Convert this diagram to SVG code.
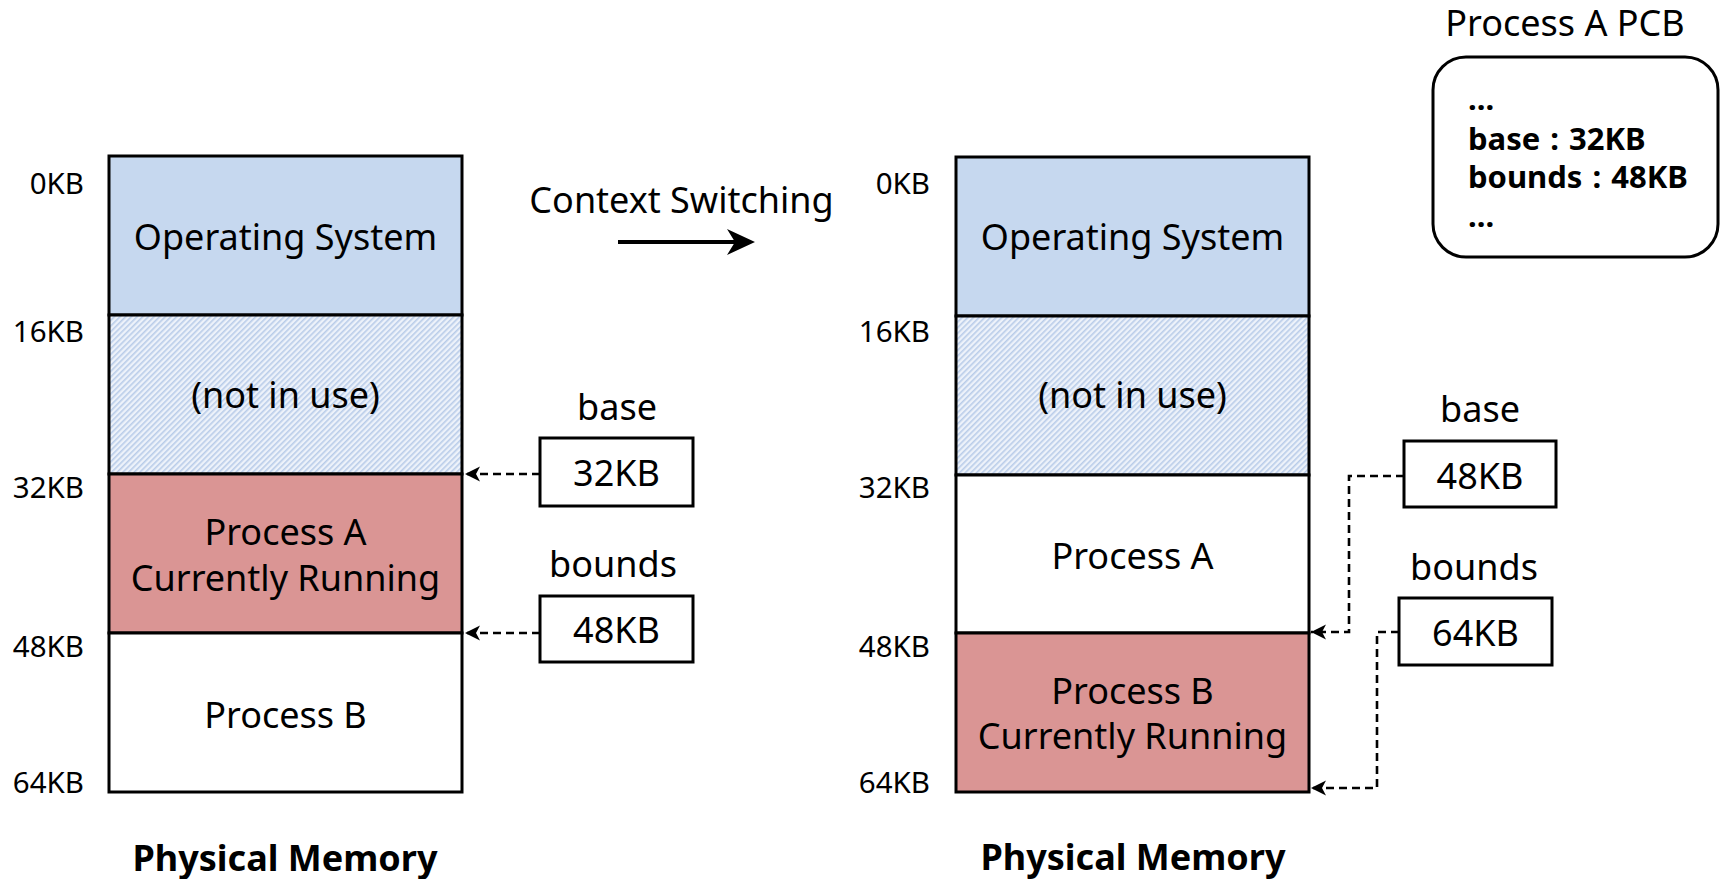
<svg xmlns="http://www.w3.org/2000/svg" width="1721" height="879" viewBox="0 0 1721 879">
  <defs>
    <style>
      .t { font-family: "Noto Sans", "Open Sans", "DejaVu Sans", sans-serif; font-size: 36px; fill: #000; }
      .mid { text-anchor: middle; }
      .lbl { font-size: 29.5px; text-anchor: end; }
      .title { font-size: 36px; font-weight: bold; text-anchor: middle; }
      .pcb { font-size: 31px; font-weight: bold; word-spacing: 2px; }
      .seg { stroke: #000; stroke-width: 3; }
      .os { fill: #C6D8EF; }
      .free { fill: url(#hatch); }
      .run { fill: #DA9594; }
      .idle { fill: #FFFFFF; }
      .reg { fill: #FFFFFF; stroke: #000; stroke-width: 3; }
      .link { fill: none; stroke: #000; stroke-width: 2.6; stroke-dasharray: 8 5; marker-end: url(#tip); }
    </style>
    <!-- fine diagonal hatch for the unused region -->
    <pattern id="hatch" patternUnits="userSpaceOnUse" width="4" height="4" patternTransform="rotate(45)">
      <rect width="4" height="4" fill="#EDF2FA"/>
      <rect width="1.6" height="4" fill="#B9CCE9"/>
    </pattern>
    <marker id="tip" markerUnits="userSpaceOnUse" markerWidth="16" markerHeight="16" refX="15" refY="8" orient="auto">
      <path d="M15,8 L0,0.5 L4,8 L0,15.5 Z" fill="#000"/>
    </marker>
  </defs>

  <rect width="1721" height="879" fill="#FFFFFF"/>

  <!-- memory layout before the switch -->
  <g id="memory-before">
    <rect class="seg os" x="109" y="156" width="353" height="159"/>
    <rect class="seg free" x="109" y="315" width="353" height="159"/>
    <rect class="seg run" x="109" y="474" width="353" height="159"/>
    <rect class="seg idle" x="109" y="633" width="353" height="159"/>
    <text class="t mid" x="285.5" y="250">Operating System</text>
    <text class="t mid" x="285.5" y="408">(not in use)</text>
    <text class="t mid" x="285.5" y="545">Process A</text>
    <text class="t mid" x="285.5" y="591">Currently Running</text>
    <text class="t mid" x="285.5" y="728">Process B</text>
    <text class="t lbl" x="84" y="194">0KB</text>
    <text class="t lbl" x="84" y="342">16KB</text>
    <text class="t lbl" x="84" y="498">32KB</text>
    <text class="t lbl" x="84" y="657">48KB</text>
    <text class="t lbl" x="84" y="793">64KB</text>
    <text class="t title" x="285" y="871">Physical Memory</text>
  </g>

  <!-- registers before the switch -->
  <g id="base-before">
    <text class="t mid" x="617" y="420">base</text>
    <rect class="reg" x="540" y="438" width="153" height="68"/>
    <text class="t mid" x="616.5" y="486">32KB</text>
  </g>
  <g id="bounds-before">
    <text class="t mid" x="613" y="577">bounds</text>
    <rect class="reg" x="540" y="596" width="153" height="66"/>
    <text class="t mid" x="616.5" y="643">48KB</text>
  </g>

  <!-- switch label -->
  <g id="context-switch">
    <text class="t mid" x="681.5" y="213">Context Switching</text>
  </g>

  <!-- memory layout after the switch -->
  <g id="memory-after">
    <rect class="seg os" x="956" y="157" width="353" height="159"/>
    <rect class="seg free" x="956" y="316" width="353" height="159"/>
    <rect class="seg idle" x="956" y="475" width="353" height="158"/>
    <rect class="seg run" x="956" y="633" width="353" height="159"/>
    <text class="t mid" x="1132.5" y="250">Operating System</text>
    <text class="t mid" x="1132.5" y="408">(not in use)</text>
    <text class="t mid" x="1132.5" y="569">Process A</text>
    <text class="t mid" x="1132.5" y="704">Process B</text>
    <text class="t mid" x="1132.5" y="749">Currently Running</text>
    <text class="t lbl" x="930" y="194">0KB</text>
    <text class="t lbl" x="930" y="342">16KB</text>
    <text class="t lbl" x="930" y="498">32KB</text>
    <text class="t lbl" x="930" y="657">48KB</text>
    <text class="t lbl" x="930" y="793">64KB</text>
    <text class="t title" x="1133" y="870">Physical Memory</text>
  </g>

  <!-- registers after the switch -->
  <g id="base-after">
    <text class="t mid" x="1480" y="422">base</text>
    <rect class="reg" x="1404" y="441" width="152" height="66"/>
    <text class="t mid" x="1480" y="489">48KB</text>
  </g>
  <g id="bounds-after">
    <text class="t mid" x="1474" y="580">bounds</text>
    <rect class="reg" x="1399" y="598" width="153" height="67"/>
    <text class="t mid" x="1475.5" y="646">64KB</text>
  </g>

  <!-- saved PCB of process A -->
  <g id="pcb-a">
    <text class="t mid" x="1565" y="36">Process A PCB</text>
    <rect x="1433" y="57" width="285" height="200" rx="33" ry="33" fill="#FFFFFF" stroke="#000" stroke-width="3"/>
    <text class="t pcb" x="1468" y="110">...</text>
    <text class="t pcb" x="1468" y="150">base : 32KB</text>
    <text class="t pcb" x="1468" y="188">bounds : 48KB</text>
    <text class="t pcb" x="1468" y="227">...</text>
  </g>

  <!-- connectors -->
  <g id="connectors">
    <path class="link" d="M540,474 H465"/>
    <path class="link" d="M540,633 H465"/>
    <path class="link" d="M1404,476 H1349 V632 H1311"/>
    <path class="link" d="M1399,632 H1377 V788 H1311"/>
    <line x1="618" y1="242" x2="740" y2="242" stroke="#000" stroke-width="4"/>
    <path d="M755,242 L727,229 L735,242 L727,255 Z" fill="#000"/>
  </g>
</svg>
